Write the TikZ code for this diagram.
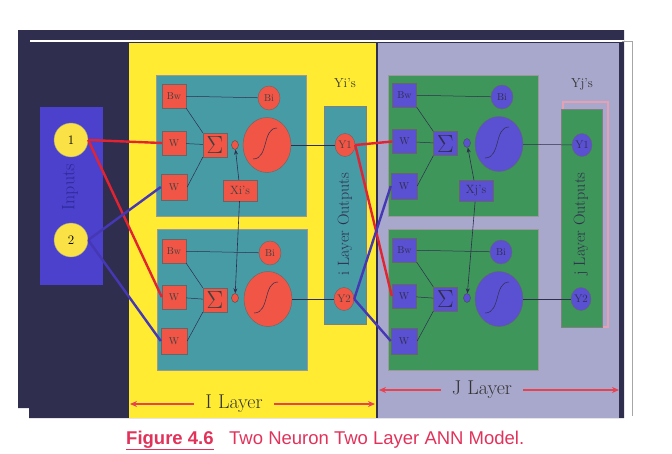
\documentclass[tikz,border=0pt]{standalone}
\usepackage{fontspec}
\newfontfamily\capfont{Liberation Sans}
\usetikzlibrary{shapes.geometric,arrows.meta,positioning,calc}
\definecolor{navy}{RGB}{48,46,78}
\definecolor{panelyellow}{RGB}{255,236,50}
\definecolor{lavender}{RGB}{168,168,204}
\definecolor{tealbox}{RGB}{70,155,165}
\definecolor{redfill}{RGB}{240,85,70}
\definecolor{greenbox}{RGB}{62,150,90}
\definecolor{violetfill}{RGB}{90,80,210}
\definecolor{inputblue}{RGB}{75,65,205}
\definecolor{inputtext}{RGB}{45,40,150}
\definecolor{inputyellow}{RGB}{250,225,70}
\definecolor{wirered}{RGB}{225,35,50}
\definecolor{wireblue}{RGB}{70,55,180}
\definecolor{layerred}{RGB}{232,65,80}
\definecolor{capred}{RGB}{225,50,90}
\definecolor{pinkline}{RGB}{230,160,180}

\begin{document}
\begin{tikzpicture}[
    x=1pt, y=-1pt,
    nbox/.style={rectangle, draw=black!40, minimum width=150pt, minimum height=141pt, inner sep=0pt},
    wbox/.style={rectangle, draw=black!60, minimum size=24pt, inner sep=0pt,
                 font=\fontsize{10}{11}\selectfont},
    sumbox/.style={wbox, font=\fontsize{25}{25}\selectfont},
    biasnode/.style={ellipse, draw=black!60, minimum width=22pt, minimum height=24pt,
                     inner sep=0pt, font=\fontsize{10}{11}\selectfont},
    joint/.style={ellipse, draw=black!70, minimum width=7pt, minimum height=9pt, inner sep=0pt},
    actnode/.style={ellipse, draw=black!60, minimum width=48pt, minimum height=55pt},
    ynode/.style={ellipse, draw=black!60, minimum width=20pt, minimum height=23pt,
                  inner sep=0pt, font=\fontsize{11}{11}\selectfont},
    xbox/.style={rectangle, draw=black!60, minimum width=34pt, minimum height=21pt,
                 inner sep=0pt, font=\fontsize{12}{12}\selectfont},
    incircle/.style={circle, draw=black!40, fill=inputyellow, minimum size=34pt,
                     inner sep=0pt, font=\fontsize{13}{13}\selectfont},
    outcol/.style={rectangle, draw=black!50, minimum width=42pt, minimum height=218pt},
    ipart/.style={fill=redfill, text=black!75},
    jpart/.style={fill=violetfill, text=navy},
    link/.style={draw=navy, line width=0.5pt},
    tip/.style={-{Stealth[length=5pt, width=4pt]}, draw=navy, line width=0.6pt},
    wire/.style={line width=2.4pt},
    layerarrow/.style={-{Stealth[length=7pt, width=6pt]}, draw=layerred, line width=1.8pt},
    layerlabel/.style={font=\fontsize{20}{22}\selectfont, text=black!80, inner xsep=11pt},
    sidelabel/.style={rotate=90, font=\fontsize{16}{16}\selectfont, text=navy},
    ylabel/.style={font=\fontsize{13}{13}\selectfont, text=black!80},
]
\useasboundingbox (0,0) rectangle (672,453);

% Background panels
\fill[navy] (18,30) -- (624,30) -- (624,418) -- (29,418) -- (29,408) -- (18,408) -- cycle;
\draw[white, line width=1.5pt] (30,41) -- (624,41);
\draw[black!35, line width=0.6pt] (622,41) -- (632,41) -- (632,416);
\fill[panelyellow] (129,43) rectangle (376,418);
\fill[lavender] (378,43) rectangle (619,418);

% Inputs
\node[rectangle, fill=inputblue, minimum width=63pt, minimum height=178pt] (inputs) at (71.5,196) {};
\node[sidelabel, font=\fontsize{18}{18}\selectfont, text=inputtext] (inputslabel) at (70,187) {Inputs};
\node[incircle] (in1) at (71,140) {1};
\node[incircle] (in2) at (71,240) {2};

% I layer, neuron 1
\node[nbox, fill=tealbox] (i1) at (231.5,146) {};
\node[wbox, ipart] (i1bw) at (174,96) {Bw};
\node[biasnode, ipart] (i1bi) at (269,98) {Bi};
\node[wbox, ipart] (i1w1) at (174,143) {W};
\node[wbox, ipart, minimum size=26pt] (i1w2) at (174,187) {W};
\node[sumbox, ipart] (i1sum) at (215,145) {$\Sigma$};
\node[joint, ipart] (i1o) at (235,145) {};
\node[actnode, ipart] (i1act) at (267,145) {};

% I layer, neuron 2
\node[nbox, fill=tealbox] (i2) at (232.5,300) {};
\node[wbox, ipart] (i2bw) at (174,251) {Bw};
\node[biasnode, ipart] (i2bi) at (270,253) {Bi};
\node[wbox, ipart] (i2w1) at (174,297) {W};
\node[wbox, ipart, minimum size=26pt] (i2w2) at (174,341) {W};
\node[sumbox, ipart] (i2sum) at (215,300) {$\Sigma$};
\node[joint, ipart] (i2o) at (235,298) {};
\node[actnode, ipart] (i2act) at (268,299) {};

\node[xbox, ipart] (ix) at (240,190.5) {Xi's};

% I layer outputs
\node[outcol, fill=tealbox] (iout) at (345,215.5) {};
\node[sidelabel] (ioutlabel) at (345,224) {i Layer Outputs};
\node[ynode, ipart] (iy1) at (345,145) {Y1};
\node[ynode, ipart] (iy2) at (344,299) {Y2};
\node[ylabel] (iys) at (345,83) {Yi's};

% J layer, neuron 1
\node[nbox, fill=greenbox] (j1) at (463,145.5) {};
\node[wbox, jpart] (j1bw) at (404.5,95) {Bw};
\node[biasnode, jpart] (j1bi) at (502,97) {Bi};
\node[wbox, jpart] (j1w1) at (404.5,141.5) {W};
\node[wbox, jpart, minimum size=26pt] (j1w2) at (404,186) {W};
\node[sumbox, jpart] (j1sum) at (445.5,143.5) {$\Sigma$};
\node[joint, jpart] (j1o) at (467,143) {};
\node[actnode, jpart] (j1act) at (499,144) {};

% J layer, neuron 2
\node[nbox, fill=greenbox] (j2) at (463,300) {};
\node[wbox, jpart] (j2bw) at (404.5,250) {Bw};
\node[biasnode, jpart] (j2bi) at (501,252) {Bi};
\node[wbox, jpart] (j2w1) at (404,296) {W};
\node[wbox, jpart, minimum size=26pt] (j2w2) at (404,341) {W};
\node[sumbox, jpart] (j2sum) at (445.5,299) {$\Sigma$};
\node[joint, jpart] (j2o) at (467,298) {};
\node[actnode, jpart] (j2act) at (499,299) {};

\node[xbox, jpart] (jx) at (476,191) {Xj's};

% J layer outputs
\draw[pinkline, line width=1.5pt] (563,102) rectangle (608,327);
\node[outcol, fill=greenbox, minimum width=41pt] (jout) at (581.5,218) {};
\node[sidelabel] (joutlabel) at (581,224) {j Layer Outputs};
\node[ynode, jpart] (jy1) at (582,145) {Y1};
\node[ynode, jpart] (jy2) at (581,299) {Y2};
\node[ylabel] (jys) at (582,84) {Yj's};

% Links inside the neurons
\foreach \n in {i1,i2,j1,j2} {
  \draw[link] (\n bw) -- (\n bi) (\n bw.south east) -- (\n sum.north west)
              (\n w1) -- (\n sum) (\n w2.east) -- (\n sum.south west);
  \draw[link] ($(\n act)+(-14,14)$) .. controls ($(\n act)+(2,14)$) and ($(\n act)+(-5,-17)$) .. ($(\n act)+(10,-17)$);
}
\draw[link] (i1act) -- (iy1);
\draw[link] (i2act) -- (iy2);
\draw[link] (j1act) -- (jy1);
\draw[link] (j2act) -- (jy2);
\draw[tip] (ix) -- (i1o);
\draw[tip] (ix) -- (i2o);
\draw[tip] (jx) -- (j1o);
\draw[tip] (jx) -- (j2o);

% Wires
\draw[wire, wirered] (in1.east) -- (i1w1.west);
\draw[wire, wirered] (in1.east) -- (i2w1.west);
\draw[wire, wireblue] (in2.east) -- (i1w2.west);
\draw[wire, wireblue] (in2.east) -- (i2w2.west);
\draw[wire, wirered] (iy1.east) -- (j1w1.west);
\draw[wire, wirered] (iy1.east) -- (j2w1.west);
\draw[wire, wireblue] (iy2.east) -- (j1w2.west);
\draw[wire, wireblue] (iy2.east) -- (j2w2.west);

% Layer spans
\coordinate (ileft) at (130,404);
\coordinate (iright) at (375,404);
\node[layerlabel] (ilabel) at (234,404) {I Layer};
\draw[layerarrow] (ilabel.west |- ileft) -- (ileft);
\draw[layerarrow] (ilabel.east |- iright) -- (iright);
\coordinate (jleft) at (379,390);
\coordinate (jright) at (619,390);
\node[layerlabel] (jlabel) at (482,390) {J Layer};
\draw[layerarrow] (jlabel.west |- jleft) -- (jleft);
\draw[layerarrow] (jlabel.east |- jright) -- (jright);

% Caption
\node[anchor=base west, inner sep=0pt, font=\capfont\fontsize{18.5}{20}\selectfont, text=capred]
    (figno) at (126,444) {\underline{\textbf{Figure 4.6}}};
\node[anchor=base west, inner sep=0pt, font=\capfont\fontsize{18.5}{20}\selectfont, text=capred]
    (figtitle) at (229,444) {Two Neuron Two Layer ANN Model.};

\end{tikzpicture}
\end{document}
